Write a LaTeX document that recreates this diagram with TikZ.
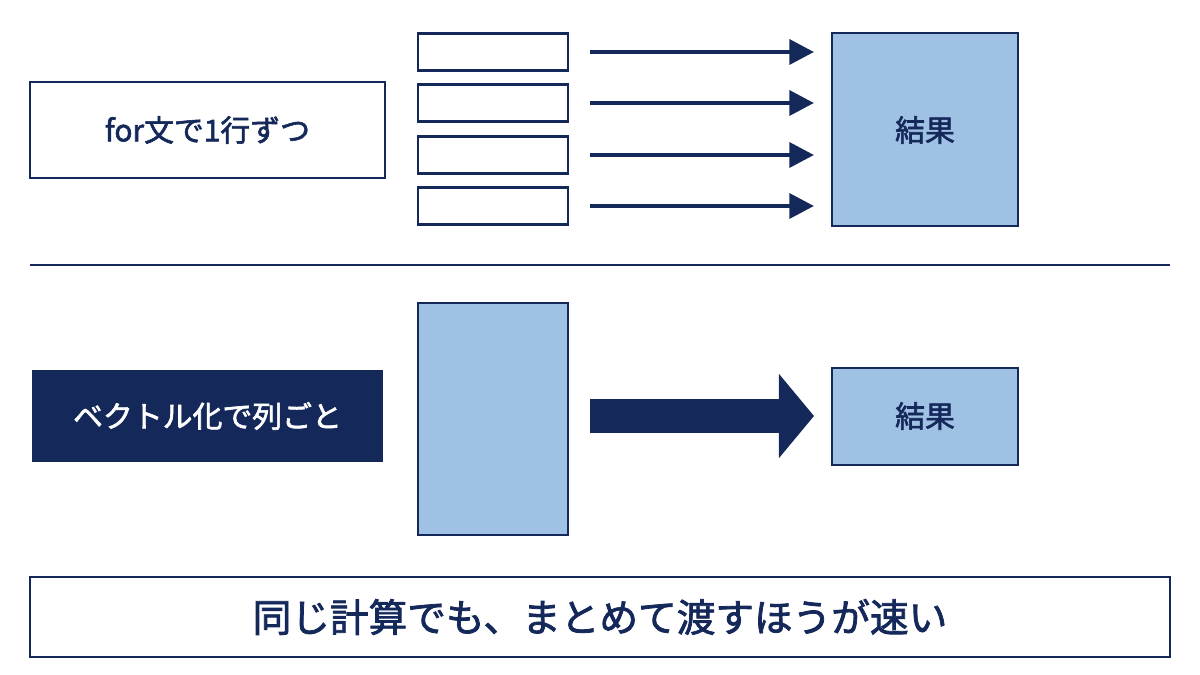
\documentclass[tikz,border=0pt]{standalone}
\usepackage{fontspec}
\setmainfont{Noto Sans CJK JP}[BoldFont=*,BoldFeatures={FakeBold=2}]
\usetikzlibrary{arrows.meta}
\definecolor{navy}{HTML}{14285A}
\definecolor{paleblue}{HTML}{9FC1E3}

\begin{document}
\begin{tikzpicture}
			[x=0.02cm,y=-0.02cm,line cap=butt,
			%Styles
			frame/.style={draw=navy,line width=1.6pt,fill=white},
			result/.style={draw=navy,line width=1.6pt,fill=paleblue},
			label text/.style={text=navy,font=\bfseries\fontsize{17}{20}\selectfont},
			row arrow/.style={navy,line width=2.6pt,-{Triangle[length=14pt,width=14pt]}}
			]
			
			\useasboundingbox (0,0) rectangle (1200,675);
			
			%Upper half: one row at a time
			\draw [frame] (30,82) rectangle (385,178);
			\node [label text] (loop) at (207.5,130) {for文で1行ずつ};
			\foreach \i/\y in {1/52,2/103,3/155,4/206} {
				\draw [frame] (418,\y-18.5) rectangle (568,\y+18.5);
				\coordinate (row\i) at (590,\y);
				\coordinate (in\i) at (814,\y);
				\draw [row arrow] (row\i) -- (in\i);
			}
			\draw [result] (832,33) rectangle (1018,226);
			\node [label text] (res1) at (925,130) {結果};
			
			%Divider
			\draw [navy,line width=1.2pt] (30,265) -- (1170,265);
			
			%Lower half: whole column at once
			\fill [navy] (32,370) rectangle (383,462);
			\node [label text,text=white] (vec) at (207.5,416) {ベクトル化で列ごと};
			\draw [result] (418,303) rectangle (568,535);
			\coordinate (colout) at (590,416);
			\coordinate (colin) at (814,416);
			\draw [navy,line width=19pt,-{Triangle[length=20pt,width=47pt]}] (colout) -- (colin);
			\draw [result] (832,368) rectangle (1018,465);
			\node [label text] (res2) at (925,416) {結果};
			
			%Conclusion
			\draw [frame] (30,577) rectangle (1170,657);
			\node [label text,font=\bfseries\fontsize{22}{26}\selectfont] (note) at (600,617) {同じ計算でも、まとめて渡すほうが速い};
		\end{tikzpicture}
\end{document}
